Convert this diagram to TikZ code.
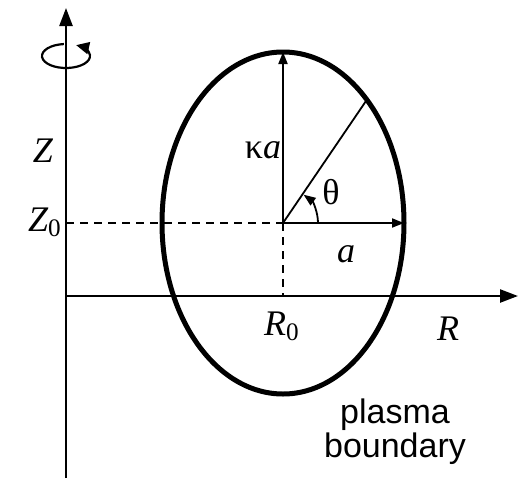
\documentclass[tikz,border=0pt]{standalone}
\usepackage{fontspec}
\setmainfont{Liberation Serif}
\newfontfamily\labelsans{Liberation Sans}
\usepackage{tikz}
\usetikzlibrary{arrows.meta, calc}

\begin{document}
\begin{tikzpicture}[
  x=0.5pt, y=-0.5pt,
  every node/.style={font=\fontsize{18}{20}\selectfont, inner sep=0pt},
  axis/.style={line width=1.2pt, -{Triangle[length=9pt, width=6.5pt]}},
  radius arr/.style={line width=0.9pt, -{Triangle[length=6pt, width=4.5pt]}},
  guide/.style={line width=0.9pt, dash pattern=on 4pt off 3pt},
  boundary/.style={line width=2.5pt},
  spin/.style={line width=1.1pt, -{Triangle[length=6.5pt, width=6pt]}},
]
\useasboundingbox (0,0) rectangle (520,483);

%% axes
\coordinate (base)  at (66,478);
\coordinate (ztop)  at (66,8);
\coordinate (orig)  at (66,296);
\coordinate (rend)  at (518,296);
\draw[axis] (base) -- (ztop);
\draw[axis] (orig) -- (rend);

%% rotation sign round the Z axis
\draw[spin] (66,56) ++(-95:24 and 12)
  arc[start angle=-95, end angle=-425, x radius=24, y radius=12];

%% plasma cross-section
\coordinate (ctr)   at (283,223);
\coordinate (ktop)  at (283,52);
\coordinate (aend)  at (404,223);
\coordinate (rim)   at (366,101);
\coordinate (zleft) at (66,223);
\coordinate (rfoot) at (283,296);
\draw[boundary] (ctr) ellipse[x radius=121, y radius=171];

\draw[guide] (zleft) -- (ctr);
\draw[guide] (ctr) -- (rfoot);

\draw[radius arr] (ctr) -- (ktop);
\draw[radius arr] (ctr) -- (aend);
\draw[line width=0.9pt] (ctr) -- (rim);
\draw[radius arr] (ctr) ++(0:35) arc[start angle=0, end angle=-54, radius=35];

%% labels
\node (zlab)  at (43,151)  {\itshape Z};
\node (z0lab) at (45,222)  {{\itshape Z}\textsubscript{0}};
\node (kalab) at (263,150) {κ{\itshape a}};
\node (thlab) at (331,192) {θ};
\node (alab)  at (346,254) {\itshape a};
\node (r0lab) at (282,326) {{\itshape R}\textsubscript{0}};
\node (rlab)  at (448,329) {\itshape R};
\node[align=center, font=\labelsans\fontsize{17}{17}\selectfont] (plab) at (395,432)
  {plasma\\boundary};

\end{tikzpicture}
\end{document}
